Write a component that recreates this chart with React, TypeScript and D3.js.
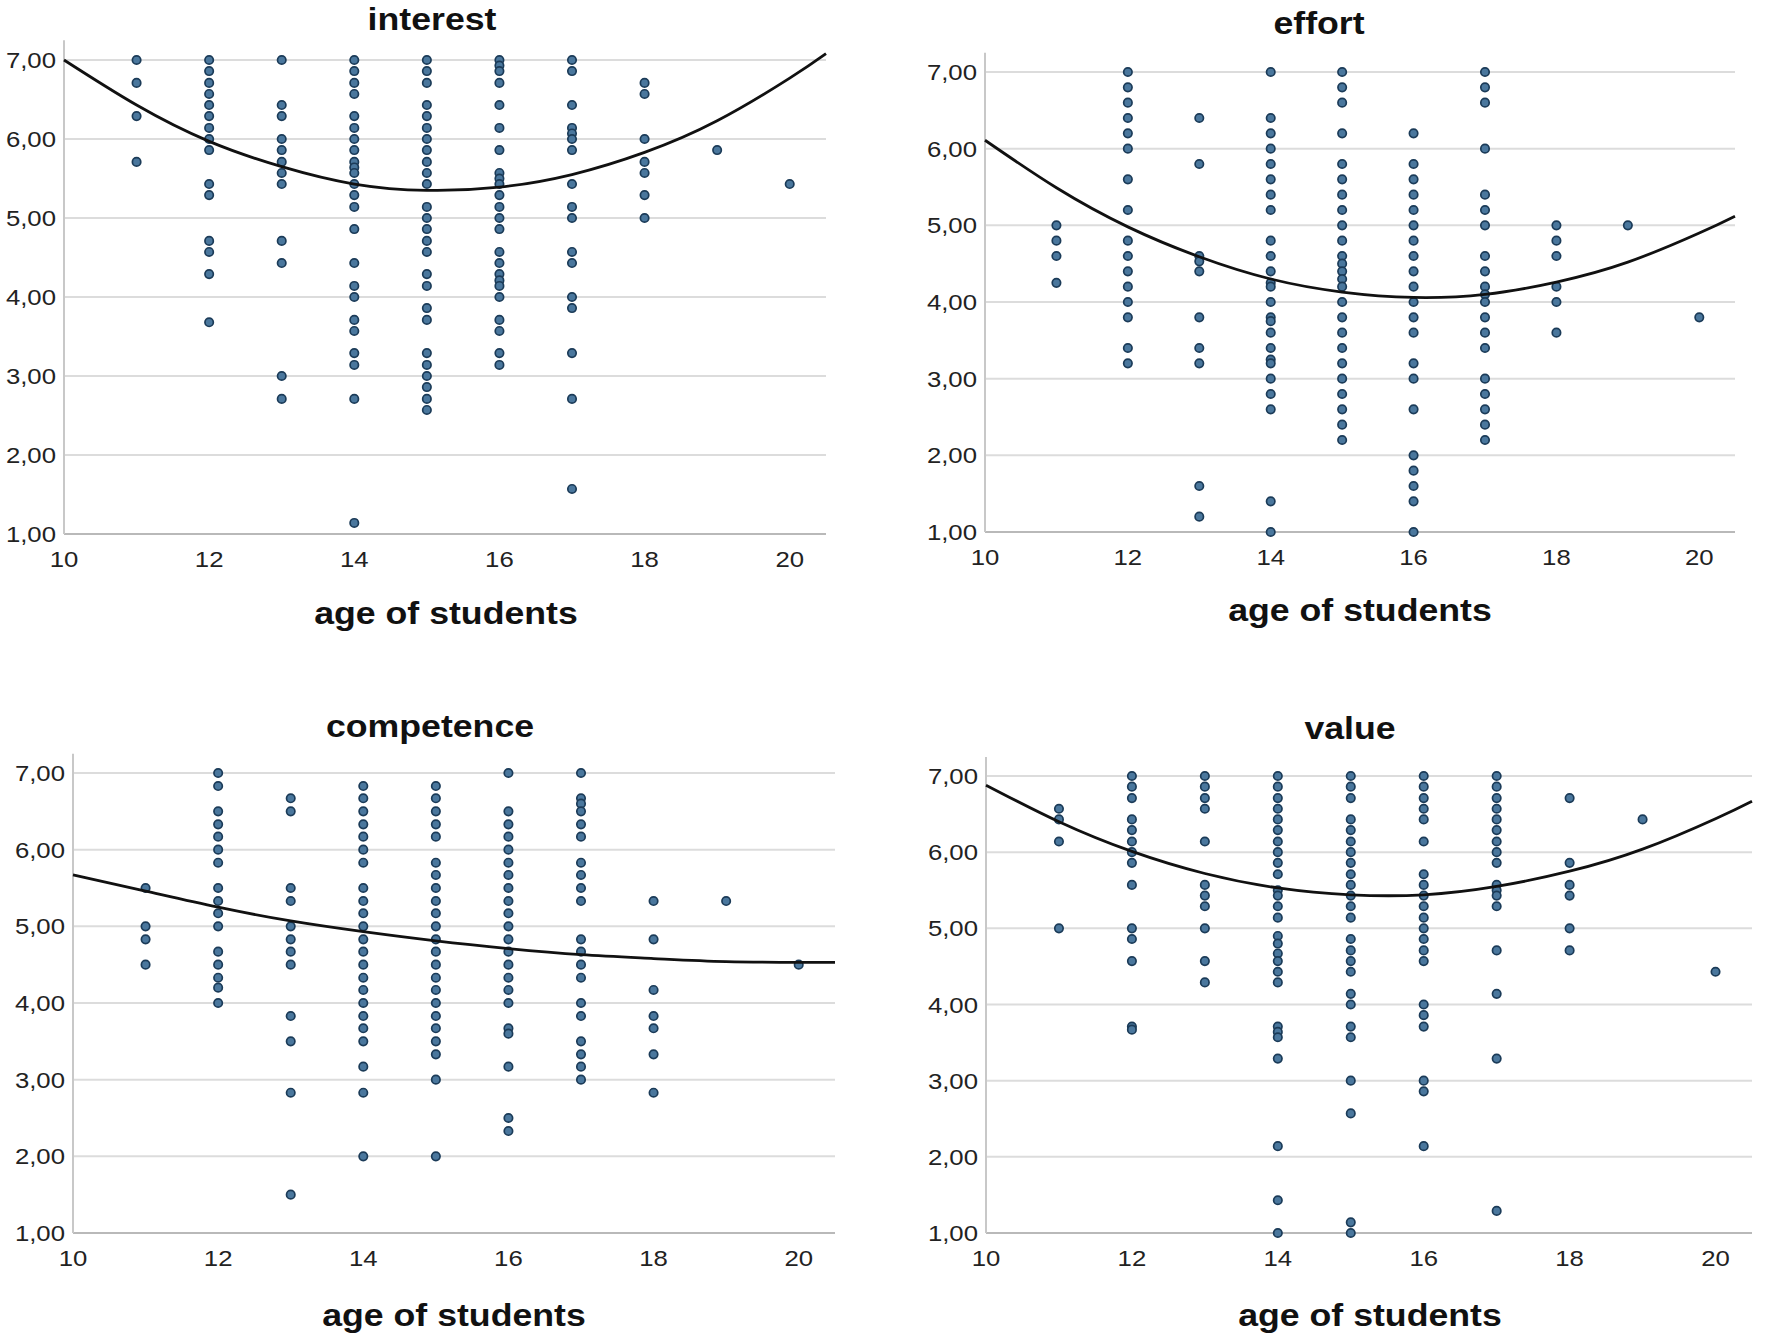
import React from "react";
import * as d3 from "d3";

// ---- data ----
const xTicks = [10, 12, 14, 16, 18, 20];
const yTicks = [1, 2, 3, 4, 5, 6, 7];
const xAxisLabel = "age of students";

const interestByAge: [number, number[]][] = [
  [11, [7, 6.71, 6.29, 5.71]],
  [12, [7, 6.86, 6.71, 6.57, 6.43, 6.29, 6.14, 6.0, 5.86, 5.43, 5.29, 4.71, 4.57, 4.29, 3.68]],
  [13, [7, 6.43, 6.29, 6.0, 5.86, 5.71, 5.57, 5.43, 4.71, 4.43, 3.0, 2.71]],
  [14, [7, 6.86, 6.71, 6.57, 6.29, 6.14, 6.0, 5.86, 5.71, 5.64, 5.57, 5.43, 5.29, 5.14, 4.86, 4.43, 4.14, 4.0, 3.71, 3.57, 3.29, 3.14, 2.71, 1.14]],
  [15, [7, 6.86, 6.71, 6.43, 6.29, 6.14, 6.0, 5.86, 5.71, 5.57, 5.43, 5.14, 5.0, 4.86, 4.71, 4.57, 4.29, 4.14, 3.86, 3.71, 3.29, 3.14, 3.0, 2.86, 2.71, 2.57]],
  [16, [7, 6.93, 6.86, 6.71, 6.43, 6.14, 5.86, 5.57, 5.5, 5.43, 5.29, 5.14, 5.0, 4.86, 4.57, 4.43, 4.29, 4.21, 4.14, 4.0, 3.71, 3.57, 3.29, 3.14]],
  [17, [7, 6.86, 6.43, 6.14, 6.07, 6.0, 5.86, 5.43, 5.14, 5.0, 4.57, 4.43, 4.0, 3.86, 3.29, 2.71, 1.57]],
  [18, [6.71, 6.57, 6.0, 5.71, 5.57, 5.29, 5.0]],
  [19, [5.86]],
  [20, [5.43]],
];
const interestFit: [number, number][] = [
  [10, 7.0], [11, 6.43], [12, 5.97], [13, 5.65], [14, 5.43], [15, 5.35], [16, 5.39],
  [17, 5.55], [18, 5.83], [19, 6.23], [20, 6.77], [20.5, 7.08],
];

const effortByAge: [number, number[]][] = [
  [11, [5.0, 4.8, 4.6, 4.25]],
  [12, [7.0, 6.8, 6.6, 6.4, 6.2, 6.0, 5.6, 5.2, 4.8, 4.6, 4.4, 4.2, 4.0, 3.8, 3.4, 3.2]],
  [13, [6.4, 5.8, 4.6, 4.53, 4.4, 3.8, 3.4, 3.2, 1.6, 1.2]],
  [14, [7.0, 6.4, 6.2, 6.0, 5.8, 5.6, 5.4, 5.2, 4.8, 4.6, 4.4, 4.25, 4.2, 4.0, 3.8, 3.75, 3.6, 3.4, 3.25, 3.2, 3.0, 2.8, 2.6, 1.4, 1.0]],
  [15, [7.0, 6.8, 6.6, 6.2, 5.8, 5.6, 5.4, 5.2, 5.0, 4.8, 4.6, 4.5, 4.4, 4.3, 4.2, 4.0, 3.8, 3.6, 3.4, 3.2, 3.0, 2.8, 2.6, 2.4, 2.2]],
  [16, [6.2, 5.8, 5.6, 5.4, 5.2, 5.0, 4.8, 4.6, 4.4, 4.2, 4.0, 3.8, 3.6, 3.2, 3.0, 2.6, 2.0, 1.8, 1.6, 1.4, 1.0]],
  [17, [7.0, 6.8, 6.6, 6.0, 5.4, 5.2, 5.0, 4.6, 4.4, 4.2, 4.1, 4.0, 3.8, 3.6, 3.4, 3.0, 2.8, 2.6, 2.4, 2.2]],
  [18, [5.0, 4.8, 4.6, 4.2, 4.0, 3.6]],
  [19, [5.0]],
  [20, [3.8]],
];
const effortFit: [number, number][] = [
  [10, 6.11], [11, 5.49], [12, 4.98], [13, 4.59], [14, 4.3], [15, 4.13], [16, 4.06],
  [17, 4.1], [18, 4.26], [19, 4.52], [20, 4.9], [20.5, 5.12],
];

const competenceByAge: [number, number[]][] = [
  [11, [5.5, 5.0, 4.83, 4.5]],
  [12, [7.0, 6.83, 6.5, 6.33, 6.17, 6.0, 5.83, 5.5, 5.33, 5.17, 5.0, 4.67, 4.5, 4.33, 4.2, 4.0]],
  [13, [6.67, 6.5, 5.5, 5.33, 5.0, 4.83, 4.67, 4.5, 3.83, 3.5, 2.83, 1.5]],
  [14, [6.83, 6.67, 6.5, 6.33, 6.17, 6.0, 5.83, 5.5, 5.33, 5.17, 5.0, 4.83, 4.67, 4.5, 4.33, 4.17, 4.0, 3.83, 3.67, 3.5, 3.17, 2.83, 2.0]],
  [15, [6.83, 6.67, 6.5, 6.33, 6.17, 5.83, 5.67, 5.5, 5.33, 5.17, 5.0, 4.83, 4.67, 4.5, 4.33, 4.17, 4.0, 3.83, 3.67, 3.5, 3.33, 3.0, 2.0]],
  [16, [7.0, 6.5, 6.33, 6.17, 6.0, 5.83, 5.67, 5.5, 5.33, 5.17, 5.0, 4.83, 4.67, 4.5, 4.33, 4.17, 4.0, 3.67, 3.6, 3.17, 2.5, 2.33]],
  [17, [7.0, 6.67, 6.6, 6.5, 6.33, 6.17, 5.83, 5.67, 5.5, 5.33, 4.83, 4.67, 4.5, 4.33, 4.0, 3.83, 3.5, 3.33, 3.17, 3.0]],
  [18, [5.33, 4.83, 4.17, 3.83, 3.67, 3.33, 2.83]],
  [19, [5.33]],
  [20, [4.5]],
];
const competenceFit: [number, number][] = [
  [10, 5.67], [11, 5.46], [12, 5.25], [13, 5.07], [14, 4.93], [15, 4.81], [16, 4.71],
  [17, 4.63], [18, 4.58], [19, 4.54], [20, 4.53], [20.5, 4.53],
];

const valueByAge: [number, number[]][] = [
  [11, [6.57, 6.43, 6.14, 5.0]],
  [12, [7.0, 6.86, 6.71, 6.43, 6.29, 6.14, 6.0, 5.86, 5.57, 5.0, 4.86, 4.57, 3.71, 3.67]],
  [13, [7.0, 6.86, 6.71, 6.57, 6.14, 5.57, 5.43, 5.29, 5.0, 4.57, 4.29]],
  [14, [7.0, 6.86, 6.71, 6.57, 6.43, 6.29, 6.14, 6.0, 5.86, 5.71, 5.5, 5.43, 5.29, 5.14, 4.9, 4.8, 4.67, 4.57, 4.43, 4.29, 3.71, 3.64, 3.57, 3.29, 2.14, 1.43, 1.0]],
  [15, [7.0, 6.86, 6.71, 6.43, 6.29, 6.14, 6.0, 5.86, 5.71, 5.57, 5.43, 5.29, 5.14, 4.86, 4.71, 4.57, 4.43, 4.14, 4.0, 3.71, 3.57, 3.0, 2.57, 1.14, 1.0]],
  [16, [7.0, 6.86, 6.71, 6.57, 6.43, 6.14, 5.71, 5.57, 5.43, 5.29, 5.14, 5.0, 4.86, 4.71, 4.57, 4.0, 3.86, 3.71, 3.0, 2.86, 2.14]],
  [17, [7.0, 6.86, 6.71, 6.57, 6.43, 6.29, 6.14, 6.0, 5.86, 5.57, 5.5, 5.43, 5.29, 4.71, 4.14, 3.29, 1.29]],
  [18, [6.71, 5.86, 5.57, 5.43, 5.0, 4.71]],
  [19, [6.43]],
  [20, [4.43]],
];
const valueFit: [number, number][] = [
  [10, 6.88], [11, 6.4], [12, 6.01], [13, 5.72], [14, 5.53], [15, 5.44], [16, 5.44],
  [17, 5.55], [18, 5.75], [19, 6.04], [20, 6.44], [20.5, 6.67],
];

// ---- layout (positions/styles) ----
type Panel = {
  title: string;
  data: [number, number[]][];
  fit: [number, number][];
  xr: [number, number];
  yr: [number, number];
  titleX: number;
  titleY: number;
  labelX: number;
  labelY: number;
};

const panels: Panel[] = [
  { title: "interest", data: interestByAge, fit: interestFit, xr: [64, 826], yr: [534, 60], titleX: 432, titleY: 30, labelX: 446, labelY: 624 },
  { title: "effort", data: effortByAge, fit: effortFit, xr: [985, 1735], yr: [532, 72], titleX: 1319, titleY: 34, labelX: 1360, labelY: 621 },
  { title: "competence", data: competenceByAge, fit: competenceFit, xr: [73, 835], yr: [1233, 773], titleX: 430, titleY: 737, labelX: 454, labelY: 1326 },
  { title: "value", data: valueByAge, fit: valueFit, xr: [986, 1752], yr: [1233, 776], titleX: 1350, titleY: 739, labelX: 1370, labelY: 1326 },
];

const FONT = "Arial, 'Liberation Sans', 'DejaVu Sans', sans-serif";
const SX = 1.17;
const fmt = (v: number) => v.toFixed(2).replace(".", ",");

function ScatterPanel({ p }: { p: Panel }) {
  const x = d3.scaleLinear().domain([10, 20.5]).range(p.xr);
  const y = d3.scaleLinear().domain([1, 7]).range(p.yr);
  const line = d3
    .line<[number, number]>()
    .x((d) => x(d[0]))
    .y((d) => y(d[1]))
    .curve(d3.curveNatural);
  const points: [number, number][] = [];
  p.data.forEach(([age, vals]) => vals.forEach((v) => points.push([age, v])));
  const x0 = x(10);
  const x1 = x(20.5);
  return (
    <g>
      {yTicks.map((t) => (
        <line key={"g" + t} x1={x0} x2={x1} y1={y(t)} y2={y(t)} stroke={t === 1 ? "#b9b9b9" : "#dcdcdc"} strokeWidth={2} />
      ))}
      <line x1={x0} x2={x0} y1={y(1)} y2={y(7.25)} stroke="#c8c8c8" strokeWidth={2} />
      {yTicks.map((t) => (
        <text
          key={"yl" + t}
          transform={`translate(${x0 - 8},${y(t) + 8}) scale(${SX},1)`}
          textAnchor="end"
          fontFamily={FONT}
          fontSize={22}
          fill="#222"
        >
          {fmt(t)}
        </text>
      ))}
      {xTicks.map((t) => (
        <text
          key={"xl" + t}
          transform={`translate(${x(t)},${y(1) + 33}) scale(${SX},1)`}
          textAnchor="middle"
          fontFamily={FONT}
          fontSize={22}
          fill="#222"
        >
          {t}
        </text>
      ))}
      {points.map(([a, v], i) => (
        <circle key={"p" + i} cx={x(a)} cy={y(v)} r={4.2} fill="#4a779d" stroke="#1b3b58" strokeWidth={1.7} />
      ))}
      <path d={line(p.fit) || ""} fill="none" stroke="#111" strokeWidth={2.8} />
      <text
        transform={`translate(${p.titleX},${p.titleY}) scale(${SX},1)`}
        textAnchor="middle"
        fontFamily={FONT}
        fontWeight="bold"
        fontSize={30.5}
        fill="#111"
      >
        {p.title}
      </text>
      <text
        transform={`translate(${p.labelX},${p.labelY}) scale(${SX},1)`}
        textAnchor="middle"
        fontFamily={FONT}
        fontWeight="bold"
        fontSize={30.5}
        fill="#111"
      >
        {xAxisLabel}
      </text>
    </g>
  );
}

export default function App() {
  return (
    <svg
      width={1770}
      height={1343}
      viewBox="0 0 1770 1343"
      style={{ position: "absolute", left: 0, top: 0, background: "#fff" }}
    >
      <rect x={0} y={0} width={1770} height={1343} fill="#fff" />
      {panels.map((p) => (
        <ScatterPanel key={p.title} p={p} />
      ))}
    </svg>
  );
}
